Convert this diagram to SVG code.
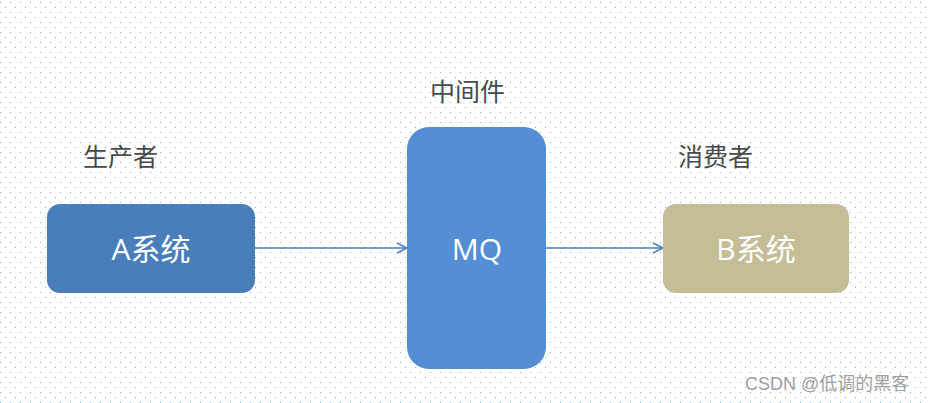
<svg xmlns="http://www.w3.org/2000/svg" width="930" height="403" viewBox="0 0 930 403">
<defs>
<pattern id="dots" width="10" height="10" patternUnits="userSpaceOnUse">
<rect x="0" y="2" width="1" height="1" fill="#8fabd9"/>
<rect x="5" y="7" width="1" height="1" fill="#8fabd9"/>
</pattern>
<marker id="arr" markerWidth="12" markerHeight="12" refX="11" refY="6" orient="auto" markerUnits="userSpaceOnUse">
<path d="M1,1 L11,6 L1,11" fill="none" stroke="#4a7ebb" stroke-width="1.5"/>
</marker>
<style>
.lbl{font-family:"Microsoft YaHei","Noto Sans CJK SC",sans-serif;font-size:25px;fill:#4a4a4a}
.nt{font-family:"Open Sans","Noto Sans CJK SC",sans-serif;font-size:30px;fill:#ffffff;text-anchor:middle;dominant-baseline:central}
.edge{stroke:#4a7ebb;stroke-width:1.6;fill:none;marker-end:url(#arr)}
</style>
</defs>
<rect width="930" height="403" fill="#ffffff"/>
<rect width="930" height="403" fill="url(#dots)"/>
<g id="connectors">
<line class="edge" x1="255" y1="248" x2="407" y2="248"/>
<line class="edge" x1="546" y1="248" x2="663" y2="248"/>
</g>
<g id="nodeA">
<rect x="47" y="204" width="208" height="89" rx="13" fill="#4a7ebb"/>
<text class="nt" x="151" y="248">A系统</text>
</g>
<g id="nodeMQ">
<rect x="407" y="127" width="139" height="242" rx="22" fill="#558ed5"/>
<text class="nt" x="477" y="248">MQ</text>
</g>
<g id="nodeB">
<rect x="663" y="204" width="186" height="89" rx="13" fill="#c4bd97"/>
<text class="nt" x="756" y="248">B系统</text>
</g>
<g id="labels">
<text class="lbl" x="83" y="166">生产者</text>
<text class="lbl" x="430" y="101">中间件</text>
<text class="lbl" x="678" y="166">消费者</text>
</g>
<text x="745" y="390" font-family="'Liberation Sans','Noto Sans CJK SC',sans-serif" font-size="18" fill="#a0a0a0">CSDN @低调的黑客</text>
</svg>
